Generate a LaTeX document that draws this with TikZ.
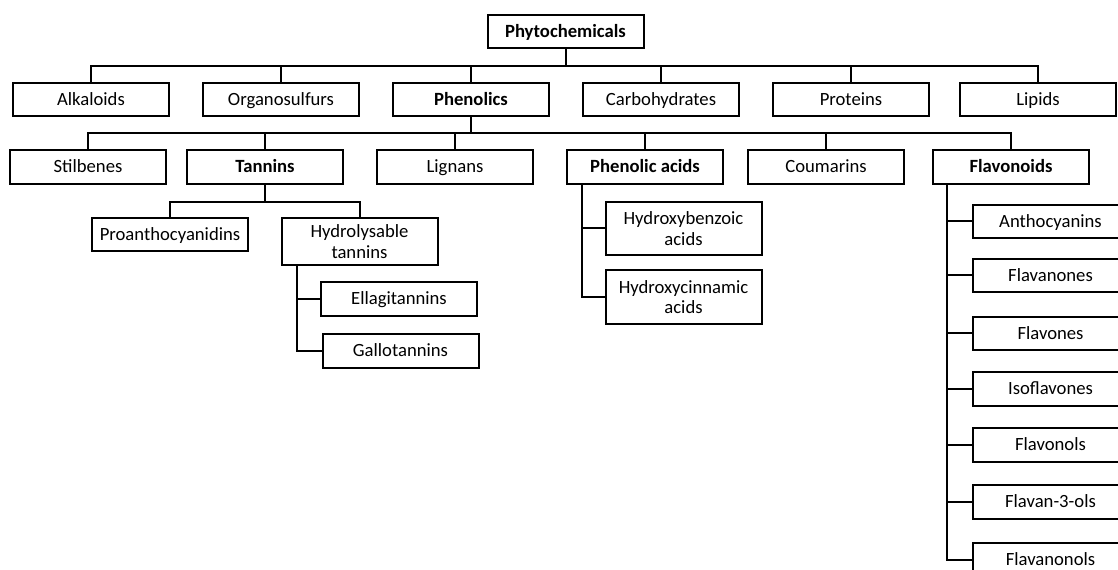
\documentclass[tikz,border=0pt]{standalone}
\usepackage{fontspec}
\setmainfont{Carlito}

\begin{document}
\begin{tikzpicture}[x=0.75pt,y=-0.75pt,
  box/.style={draw=black, line width=1.5pt, fill=white, minimum width=117pt, minimum height=25pt, inner sep=2pt, align=center, text height=9.5pt, text depth=1pt, font=\fontsize{14}{15.5}\selectfont},
  head/.style={box, font=\fontsize{14}{15.5}\selectfont\bfseries},
  twoline/.style={box, text height={}, text depth={}},
  link/.style={line width=1.5pt}]
\useasboundingbox (0,0) rectangle (1118,570);
\clip (0,0) rectangle (1118,570);

\node[head] (phyto) at (565.5,31.5) {Phytochemicals};

\node[box]  (alk)  at (91,99.5)   {Alkaloids};
\node[box]  (org)  at (281,99.5)  {Organosulfurs};
\node[head] (phen) at (471,99.5)  {Phenolics};
\node[box]  (carb) at (661,99.5)  {Carbohydrates};
\node[box]  (prot) at (851,99.5)  {Proteins};
\node[box]  (lip)  at (1038,99.5) {Lipids};

\node[box]  (stil) at (88,167)   {Stilbenes};
\node[head] (tann) at (265,167)  {Tannins};
\node[box]  (lign) at (455,167)  {Lignans};
\node[head] (phac) at (645,167)  {Phenolic acids};
\node[box]  (coum) at (826,167)  {Coumarins};
\node[head] (flav) at (1011,167) {Flavonoids};

\node[box] (proa) at (170,234.5) {Proanthocyanidins};
\node[twoline, minimum height=35.5pt] (hydt) at (359.5,241.5) {Hydrolysable\\tannins};
\node[box] (ella) at (399,299) {Ellagitannins};
\node[box] (gall) at (400.5,351) {Gallotannins};

\node[twoline, minimum height=40pt] (hbenz) at (683.5,228.5) {Hydroxybenzoic\\acids};
\node[twoline, minimum height=40pt] (hcinn) at (683.5,297) {Hydroxycinnamic\\acids};

\node[box] (antho) at (1050.5,221.5) {Anthocyanins};
\node[box] (flvn)  at (1050.5,275.5) {Flavanones};
\node[box] (flvs)  at (1050.5,333.5) {Flavones};
\node[box] (isof)  at (1050.5,389)   {Isoflavones};
\node[box] (flvl)  at (1050.5,445)   {Flavonols};
\node[box] (f3ol)  at (1050.5,502)   {Flavan-3-ols};
\node[box] (flnl)  at (1050.5,559.5) {Flavanonols};

\foreach \n in {alk,org,phen,carb,prot,lip}
  \draw[link] (phyto.south) -- ++(0,16.5) -| (\n.north);
\foreach \n in {stil,tann,lign,phac,coum,flav}
  \draw[link] (phen.south) -- ++(0,16) -| (\n.north);
\foreach \n in {proa,hydt}
  \draw[link] (tann.south) -- ++(0,17) -| (\n.north);
\foreach \n in {ella,gall}
  \draw[link] ([xshift=12pt]hydt.south west) |- (\n.west);
\foreach \n in {hbenz,hcinn}
  \draw[link] ([xshift=12pt]phac.south west) |- (\n.west);
\foreach \n in {antho,flvn,flvs,isof,flvl,f3ol,flnl}
  \draw[link] ([xshift=11.5pt]flav.south west) |- (\n.west);
\end{tikzpicture}
\end{document}
